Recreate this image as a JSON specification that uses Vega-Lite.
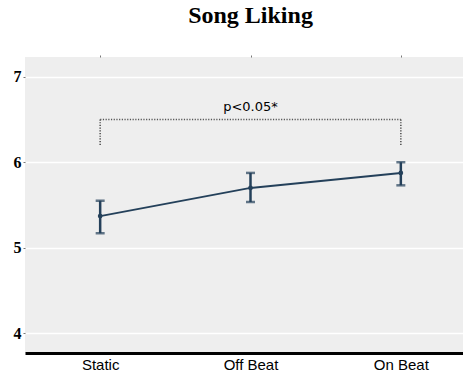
{
  "$schema": "https://vega.github.io/schema/vega-lite/v6.json",
  "width": 451,
  "height": 296,
  "autosize": {"type": "none"},
  "padding": {"left": 25, "top": 57, "right": 0, "bottom": 19},
  "background": "white",
  "title": {"text": "Song Liking", "font": "Liberation Serif", "fontSize": 24, "fontWeight": "bold", "color": "black", "anchor": "middle", "offset": 27},
  "config": {"view": {"fill": "#eeeeee", "stroke": null}},
  "resolve": {"axis": {"x": "independent"}},
  "datasets": {
    "means": [
      {"condition": "Static", "mean": 5.37, "low": 5.17, "high": 5.55},
      {"condition": "Off Beat", "mean": 5.70, "low": 5.535, "high": 5.875},
      {"condition": "On Beat", "mean": 5.875, "low": 5.73, "high": 6.0}
    ],
    "bracket": [
      {"x": "Static", "x2": "On Beat", "y": 6.5, "y2": 6.5},
      {"x": "Static", "x2": "Static", "y": 6.5, "y2": 6.2},
      {"x": "On Beat", "x2": "On Beat", "y": 6.5, "y2": 6.2}
    ],
    "label": [{"x": "Off Beat", "y": 6.65, "text": "p<0.05*"}]
  },
  "layer": [
    {
      "mark": {"type": "rule", "strokeWidth": 0},
      "data": {"name": "means"},
      "encoding": {
        "x": {"field": "condition", "type": "nominal",
          "scale": {"type": "point", "padding": 0.5, "domain": ["Static", "Off Beat", "On Beat"]},
          "axis": {"orient": "bottom", "title": null, "labelAngle": 0, "labelFont": "Liberation Sans", "labelFontSize": 15, "labelColor": "black", "ticks": false, "domainColor": "black", "domainWidth": 3, "labelPadding": 4, "grid": false}},
        "y": {"field": "mean", "type": "quantitative", "scale": {"domain": [3.77, 7.23], "nice": false, "zero": false},
          "axis": {"title": null, "values": [4, 5, 6, 7], "format": "d", "labelFont": "Liberation Serif", "labelFontWeight": "bold", "labelFontSize": 16, "labelColor": "black", "tickSize": 2, "tickColor": "#777", "domain": false, "labelPadding": 2, "gridColor": "white", "gridWidth": 1.5}}
      }
    },
    {
      "mark": {"type": "rule", "strokeWidth": 0},
      "data": {"name": "means"},
      "encoding": {
        "x": {"field": "condition", "type": "nominal",
          "axis": {"orient": "top", "title": null, "labels": false, "domain": false, "tickSize": 2, "tickColor": "#777", "grid": false}},
        "y": {"field": "mean", "type": "quantitative"}
      }
    },
    {
      "mark": {"type": "rule", "color": "#555555", "strokeWidth": 1.6, "strokeDash": [1.2, 1.5]},
      "data": {"name": "bracket"},
      "encoding": {
        "x": {"field": "x", "type": "nominal", "axis": null},
        "x2": {"field": "x2"},
        "y": {"field": "y", "type": "quantitative"},
        "y2": {"field": "y2"}
      }
    },
    {
      "mark": {"type": "text", "font": "DejaVu Sans", "fontSize": 13, "color": "black", "baseline": "middle", "align": "center"},
      "data": {"name": "label"},
      "encoding": {
        "x": {"field": "x", "type": "nominal", "axis": null},
        "y": {"field": "y", "type": "quantitative"},
        "text": {"field": "text"}
      }
    },
    {
      "mark": {"type": "line", "color": "#24405a", "strokeWidth": 2},
      "data": {"name": "means"},
      "encoding": {
        "x": {"field": "condition", "type": "nominal", "axis": null},
        "y": {"field": "mean", "type": "quantitative"}
      }
    },
    {
      "mark": {"type": "rule", "color": "#24405a", "strokeWidth": 2.5},
      "data": {"name": "means"},
      "encoding": {
        "x": {"field": "condition", "type": "nominal", "axis": null},
        "y": {"field": "low", "type": "quantitative"},
        "y2": {"field": "high"}
      }
    },
    {
      "mark": {"type": "tick", "color": "#24405a", "thickness": 2.5, "size": 9},
      "data": {"name": "means"},
      "encoding": {
        "x": {"field": "condition", "type": "nominal", "axis": null},
        "y": {"field": "low", "type": "quantitative"}
      }
    },
    {
      "mark": {"type": "tick", "color": "#24405a", "thickness": 2.5, "size": 9},
      "data": {"name": "means"},
      "encoding": {
        "x": {"field": "condition", "type": "nominal", "axis": null},
        "y": {"field": "high", "type": "quantitative"}
      }
    },
    {
      "mark": {"type": "point", "filled": true, "color": "#24405a", "size": 22, "opacity": 1},
      "data": {"name": "means"},
      "encoding": {
        "x": {"field": "condition", "type": "nominal", "axis": null},
        "y": {"field": "mean", "type": "quantitative"}
      }
    }
  ]
}
